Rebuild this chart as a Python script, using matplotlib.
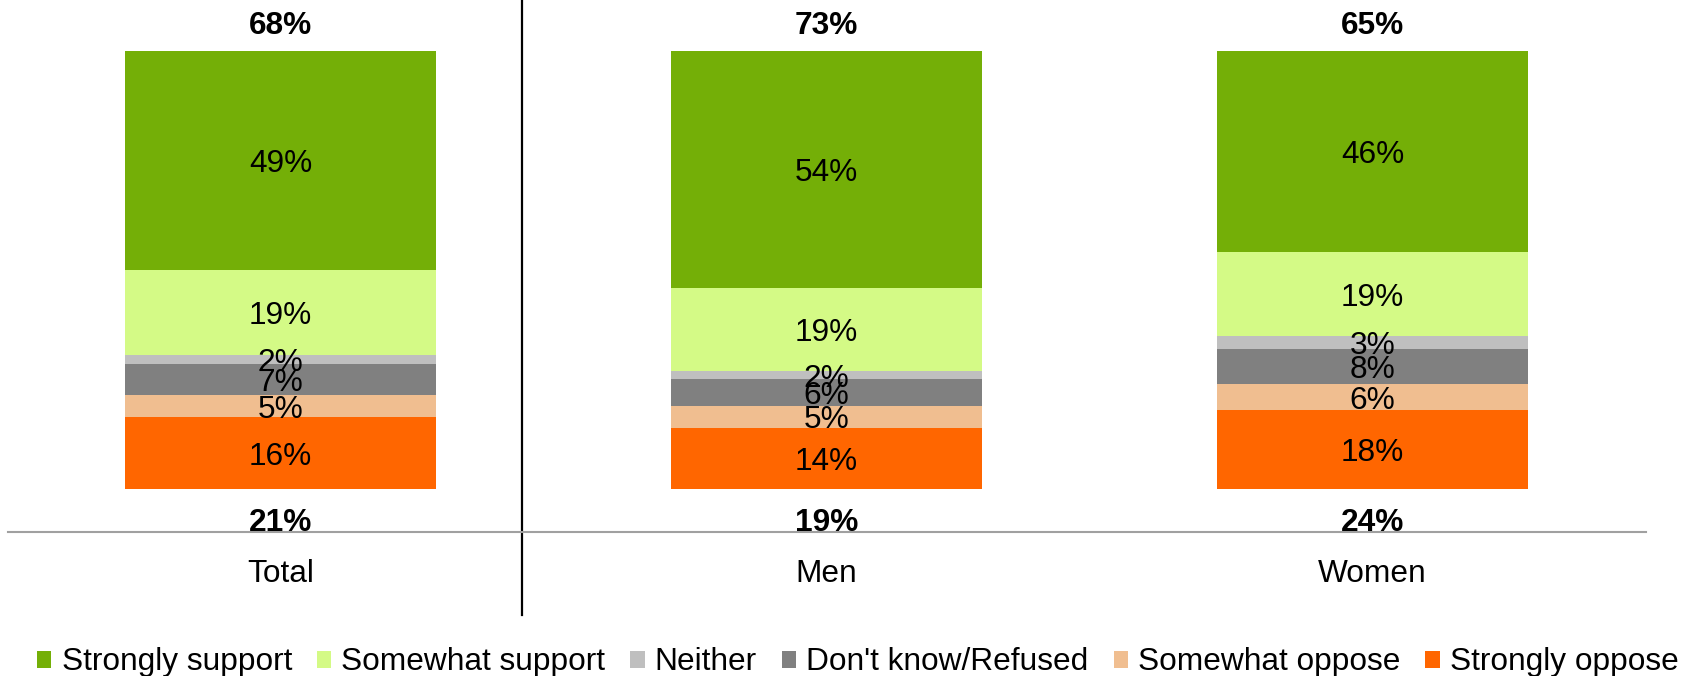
import matplotlib
matplotlib.use("Agg")
import matplotlib.pyplot as plt
import matplotlib.transforms as mtransforms
import numpy as np

plt.rcParams['font.family'] = ['Liberation Sans', 'DejaVu Sans']

categories = ["Total", "Men", "Women"]
series_names = ["Strongly support", "Somewhat support", "Neither",
                "Don't know/Refused", "Somewhat oppose", "Strongly oppose"]
strongly_support = [49, 54, 46]
somewhat_support = [19, 19, 19]
neither = [2, 2, 3]
dont_know = [7, 6, 8]
somewhat_oppose = [5, 5, 6]
strongly_oppose = [16, 14, 18]
total_support = [68, 73, 65]
total_oppose = [21, 19, 24]

colors = ["#74AF07", "#D4FA86", "#BFBFBF", "#808080", "#F0BE90", "#FF6600"]

# stacking order bottom -> top
stack_order = [strongly_oppose, somewhat_oppose, dont_know, neither,
               somewhat_support, strongly_support]
stack_names = series_names[::-1]
stack_colors = colors[::-1]

FS = 22.8
W, H = 1692, 676
fig = plt.figure(figsize=(W / 100, H / 100), dpi=100)
ax = fig.add_axes([7.6 / W, (H - 532) / H, 1638 / W, 532 / H])

x = np.arange(len(categories))
sums = np.sum(np.array(stack_order, dtype=float), axis=0)
bottom = np.zeros(len(categories))
handles = {}
for vals, name, col in zip(stack_order, stack_names, stack_colors):
    vals = np.array(vals, dtype=float)
    h = vals / sums * 100
    bars = ax.bar(x, h, width=0.57, bottom=bottom, color=col, label=name,
                  edgecolor='none')
    handles[name] = bars
    for xi, b, hi, v in zip(x, bottom, h, vals):
        ax.text(xi, b + hi / 2, f"{int(v)}%", ha='center',
                va='center_baseline', fontsize=FS, color='black')
    bottom += h

for xi, v in zip(x, total_support):
    ax.text(xi, 106.6, f"{v}%", ha='center', va='center_baseline',
            fontsize=FS, fontweight='bold', color='black')
for xi, v in zip(x, total_oppose):
    ax.text(xi, -7.0, f"{v}%", ha='center', va='center_baseline',
            fontsize=FS, fontweight='bold', color='black')

ax.set_xlim(-0.5, 2.5)
ax.set_ylim(-9.82, 111.64)
ax.set_yticks([])
ax.set_xticks(x)
ax.set_xticklabels(categories, fontsize=FS)
ax.tick_params(axis='x', length=0, pad=19.5)
for s in ['top', 'right', 'left']:
    ax.spines[s].set_visible(False)
ax.spines['bottom'].set_color('#A0A0A0')
ax.spines['bottom'].set_linewidth(1.5)

trans = mtransforms.blended_transform_factory(ax.transData, ax.transAxes)
ax.plot([0.442, 0.442], [-0.156, 1.0], transform=trans, color='black',
        linewidth=1.6, clip_on=False)

leg = fig.legend([handles[n] for n in series_names], series_names,
                 loc='center', bbox_to_anchor=(0.507, 0.020), ncol=6,
                 frameon=False, fontsize=FS, handlelength=0.45,
                 handleheight=0.45, handletextpad=0.32, columnspacing=0.79,
                 borderpad=0, borderaxespad=0)

fig.savefig("out.png", dpi=100)
